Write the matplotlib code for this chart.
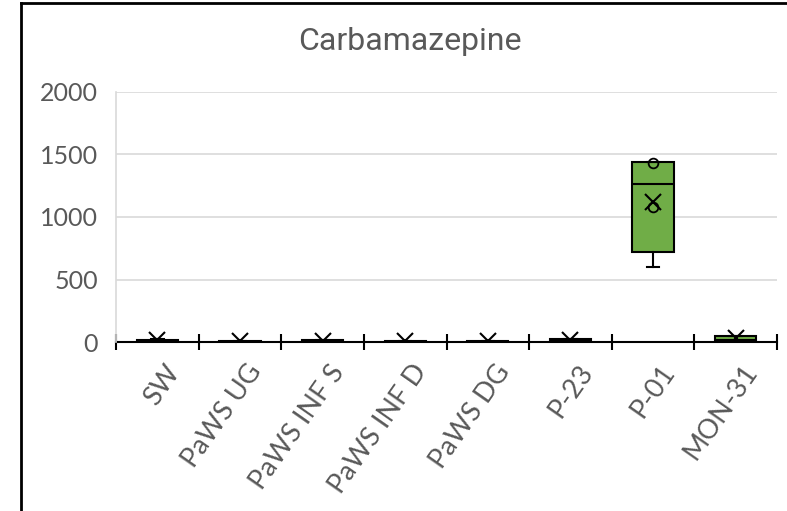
import numpy as np
import matplotlib
matplotlib.use('Agg')
import matplotlib.pyplot as plt
from matplotlib.lines import Line2D

# ============================================================
# DATA
# ============================================================
categories = ['SW', 'PaWS UG', 'PaWS INF S', 'PaWS INF D', 'PaWS DG', 'P-23', 'P-01', 'MON-31']
whislo = [0, 0, 0, 0, 0, 0, 602, 0]
q1 = [2, 1, 2, 1, 1, 3, 722, 3]
med = [8, 4, 6, 3, 3, 10, 1262, 15]
q3 = [18, 9, 14, 7, 7, 22, 1438, 45]
whishi = [22, 11, 16, 9, 9, 26, 1438, 50]
means = [15, 8, 10, 8, 8, 14, 1122, 30]
points = [[], [], [], [], [], [], [1434, 1078], []]
y_ticks = [0, 500, 1000, 1500, 2000]

GREEN = '#70AD47'
GRAY_TXT = '#595959'
GRID = '#d9d9d9'

plt.rcParams['font.family'] = ['Lato', 'DejaVu Sans']

fig = plt.figure(figsize=(7.87, 5.11), dpi=100)
ax = fig.add_axes([116 / 787, 1 - 342 / 511, (777 - 116) / 787, 250 / 511])

stats = []
for i, name in enumerate(categories):
    stats.append(dict(label=name, whislo=whislo[i], q1=q1[i], med=med[i],
                      q3=q3[i], whishi=whishi[i], mean=means[i], fliers=[]))

pos = np.arange(1, len(categories) + 1)
ax.bxp(stats, positions=pos, widths=0.5, capwidths=0.15, patch_artist=True,
       showmeans=True, showfliers=False,
       boxprops=dict(facecolor=GREEN, edgecolor='black', linewidth=1.5),
       medianprops=dict(color='black', linewidth=1.5),
       whiskerprops=dict(color='black', linewidth=1.5),
       capprops=dict(color='black', linewidth=1.5),
       meanprops=dict(marker='x', markeredgecolor='black', markersize=11,
                      markeredgewidth=1.5),
       zorder=3)

for i, pts in enumerate(points):
    if pts:
        ax.plot([pos[i]] * len(pts), pts, 'o', markersize=7,
                markerfacecolor='none', markeredgecolor='black',
                markeredgewidth=1.3, zorder=4)

ax.set_xlim(0.5, len(categories) + 0.5)
ax.set_ylim(0, 2000)
ax.set_yticks(y_ticks)
ax.set_yticklabels([str(v) for v in y_ticks])
ax.tick_params(axis='y', length=0, pad=13, labelsize=18, labelcolor=GRAY_TXT)
ax.grid(axis='y', color=GRID, linewidth=1.2, zorder=0)

# category boundary ticks (crossing the axis)
ax.set_xticks(np.arange(0.5, len(categories) + 1), labels=[''] * (len(categories) + 1))
ax.tick_params(axis='x', which='major', direction='inout', length=12,
               width=1.5, color='black')
# labels at the category centres
ax.set_xticks(pos + 0.08, minor=True)
ax.set_xticklabels(categories, minor=True, rotation=55, ha='right',
                   rotation_mode='anchor')
ax.tick_params(axis='x', which='minor', length=0, pad=13, labelsize=19.5,
               labelcolor=GRAY_TXT)

for s in ['top', 'right']:
    ax.spines[s].set_visible(False)
ax.spines['left'].set_color(GRID)
ax.spines['left'].set_linewidth(1.2)
ax.spines['bottom'].set_color('black')
ax.spines['bottom'].set_linewidth(1.5)
ax.spines['bottom'].set_zorder(2)

fig.text(410 / 787, 1 - 42 / 511, 'Carbamazepine', ha='center', va='center',
         fontsize=23, color=GRAY_TXT, family=['Roboto', 'DejaVu Sans'])

# chart frame (cropped in the reference: only left and top edges visible)
fig.add_artist(Line2D([21 / 787, 1], [1 - 3 / 511] * 2, color='black', linewidth=2))
fig.add_artist(Line2D([21 / 787] * 2, [0, 1 - 3 / 511], color='black', linewidth=2))

fig.savefig('out.png', dpi=100)
